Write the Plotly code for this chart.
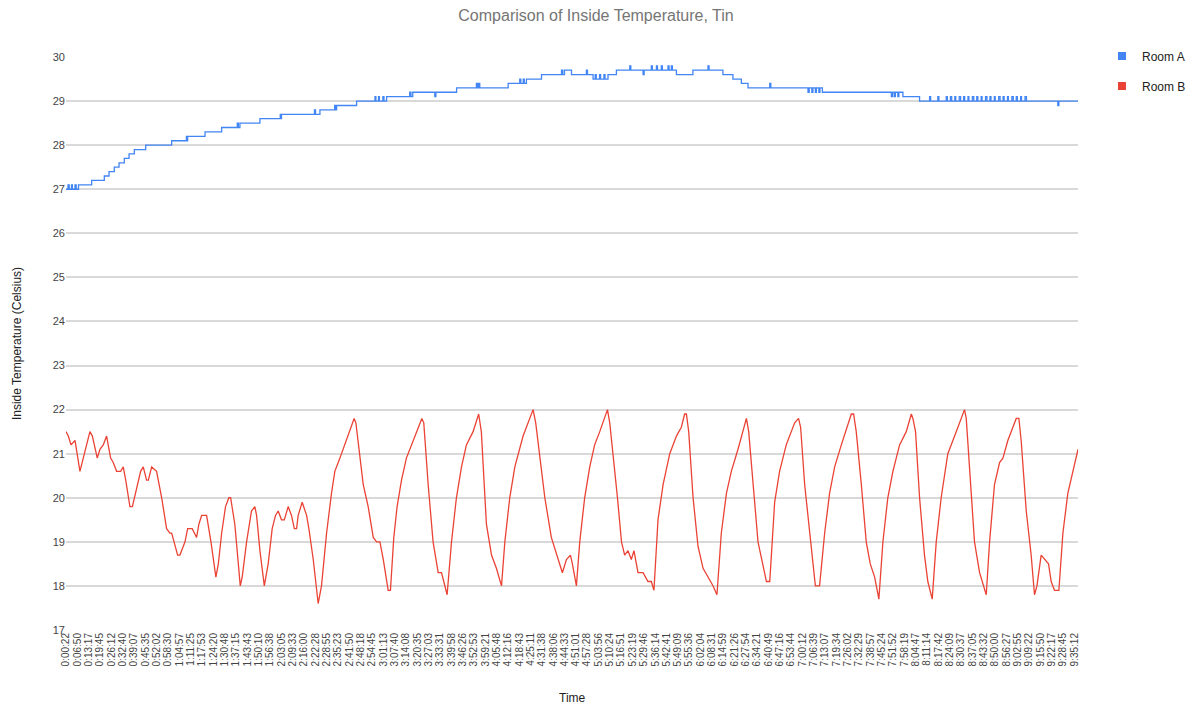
import plotly.graph_objects as go

# ---------------- data (time in minutes from 0:00:00) ----------------
tick_labels = [
    "0:00:22", "0:06:50", "0:13:17", "0:19:45", "0:26:12", "0:32:40", "0:39:07", "0:45:35", "0:52:02", "0:58:30",
    "1:04:57", "1:11:25", "1:17:53", "1:24:20", "1:30:48", "1:37:15", "1:43:43", "1:50:10", "1:56:38", "2:03:05",
    "2:09:33", "2:16:00", "2:22:28", "2:28:55", "2:35:23", "2:41:50", "2:48:18", "2:54:45", "3:01:13", "3:07:40",
    "3:14:08", "3:20:35", "3:27:03", "3:33:31", "3:39:58", "3:46:26", "3:52:53", "3:59:21", "4:05:48", "4:12:16",
    "4:18:43", "4:25:11", "4:31:38", "4:38:06", "4:44:33", "4:51:01", "4:57:28", "5:03:56", "5:10:24", "5:16:51",
    "5:23:19", "5:29:46", "5:36:14", "5:42:41", "5:49:09", "5:55:36", "6:02:04", "6:08:31", "6:14:59", "6:21:26",
    "6:27:54", "6:34:21", "6:40:49", "6:47:16", "6:53:44", "7:00:12", "7:06:39", "7:13:07", "7:19:34", "7:26:02",
    "7:32:29", "7:38:57", "7:45:24", "7:51:52", "7:58:19", "8:04:47", "8:11:14", "8:17:42", "8:24:09", "8:30:37",
    "8:37:05", "8:43:32", "8:50:00", "8:56:27", "9:02:55", "9:09:22", "9:15:50", "9:22:17", "9:28:45", "9:35:12",
]

room_a_time = [
    0.37, 1.5, 2.2, 3.5, 4.0, 5.5, 6.2, 7.5, 15.0, 22.2, 24.9, 27.9, 30.6, 33.6, 36.3, 39.3, 45.8,
    60.6, 69.0, 69.4, 69.7, 79.6, 89.1, 98.0, 98.6, 99.5, 110.9, 122.5, 122.8, 123.2, 142.0, 142.6,
    145.1, 153.5, 154.0, 154.6, 166.0, 176.5, 177.0, 178.5, 179.0, 181.0, 181.6, 183.1,
    196.3, 197.0, 198.0, 210.6, 211.2, 223.0, 234.3, 235.0, 235.6, 236.2, 252.4,
    259.0, 259.6, 261.0, 261.6, 262.8, 271.4, 282.8, 283.5, 284.5, 288.5, 297.0, 297.6,
    300.8, 302.0, 302.6, 304.5, 305.1, 307.0, 307.6, 309.3, 314.1, 321.7, 322.3, 329.3, 329.9,
    334.0, 334.6, 336.9, 337.5, 339.7, 340.3, 343.5, 344.1, 345.4, 346.0, 348.3, 357.7,
    366.3, 366.9, 374.8, 380.5, 385.3, 389.1, 401.5, 402.1,
    423.3, 424.0, 425.5, 426.1, 427.5, 428.1, 429.5, 430.1, 431.5,
    470.8, 471.5, 472.5, 473.1, 474.5, 475.1, 477.4, 486.9, 492.6, 493.2, 497.3, 497.9,
    502.1, 502.7, 504.5, 505.2, 507.0, 507.5, 509.5, 510.3, 512.0, 512.6, 514.5, 515.0,
    517.0, 517.8, 519.5, 520.1, 522.0, 522.5, 524.5, 525.3, 527.0, 527.6, 529.5, 530.0,
    532.0, 532.8, 534.5, 535.1, 537.0, 537.5, 539.5, 540.3, 542.0, 542.6, 544.5, 545.0,
    547.0, 547.8, 549.6, 565.7, 566.3, 577.2,
]
room_a_temp = [
    27.0, 27.1, 27.0, 27.1, 27.0, 27.1, 27.0, 27.1, 27.2, 27.3, 27.4, 27.5, 27.6, 27.7, 27.8, 27.9, 28.0,
    28.1, 28.2, 28.1, 28.2, 28.3, 28.4, 28.5, 28.4, 28.5, 28.6, 28.7, 28.6, 28.7, 28.8, 28.7,
    28.8, 28.9, 28.8, 28.9, 29.0, 29.1, 29.0, 29.1, 29.0, 29.1, 29.0, 29.1,
    29.2, 29.1, 29.2, 29.1, 29.2, 29.3, 29.4, 29.3, 29.4, 29.3, 29.4,
    29.5, 29.4, 29.5, 29.4, 29.5, 29.6, 29.7, 29.6, 29.7, 29.6, 29.7, 29.6,
    29.5, 29.6, 29.5, 29.6, 29.5, 29.6, 29.5, 29.6, 29.7, 29.8, 29.7, 29.6, 29.7,
    29.8, 29.7, 29.8, 29.7, 29.8, 29.7, 29.8, 29.7, 29.8, 29.7, 29.6, 29.7,
    29.8, 29.7, 29.6, 29.5, 29.4, 29.3, 29.4, 29.3,
    29.2, 29.3, 29.2, 29.3, 29.2, 29.3, 29.2, 29.3, 29.2,
    29.1, 29.2, 29.1, 29.2, 29.1, 29.2, 29.1, 29.0, 29.1, 29.0, 29.1, 29.0,
    29.1, 29.0, 29.1, 29.0, 29.1, 29.0, 29.1, 29.0, 29.1, 29.0, 29.1, 29.0,
    29.1, 29.0, 29.1, 29.0, 29.1, 29.0, 29.1, 29.0, 29.1, 29.0, 29.1, 29.0,
    29.1, 29.0, 29.1, 29.0, 29.1, 29.0, 29.1, 29.0, 29.1, 29.0, 29.1, 29.0,
    29.1, 29.0, 29.0, 28.9, 29.0, 29.0,
]

room_b_time = [
    0.37, 1.7, 3.2, 5.5, 8.3, 10.2, 13.1, 14.0, 15.4, 18.2, 19.7, 21.6, 23.5, 25.8, 27.3, 29.2,
    31.5, 33.0, 34.4, 36.8, 38.2, 41.6, 42.9, 44.4, 46.3, 47.3, 49.2, 52.0, 54.9, 57.7, 59.6,
    60.6, 64.0, 65.3, 68.2, 69.7, 72.3, 74.8, 76.1, 77.7, 80.5, 83.0, 85.8, 87.2, 89.1, 91.3,
    93.2, 94.2, 96.6, 99.7, 100.8, 103.3, 106.1, 108.0, 109.0, 110.9, 113.4, 115.6, 117.9, 119.8,
    121.3, 123.2, 124.8, 127.0, 128.9, 130.5, 131.8, 132.7, 135.0, 137.5, 138.8, 141.3, 144.1,
    146.0, 148.9, 151.7, 153.6, 156.5, 159.3, 162.2, 164.6, 165.6, 167.9, 169.8, 172.6, 175.5,
    177.4, 179.3, 181.2, 184.0, 185.3, 187.2, 189.1, 191.6, 194.4, 198.2, 203.2, 204.3, 206.8,
    209.6, 212.5, 214.4, 216.3, 217.6, 220.1, 222.9, 225.8, 228.6, 232.4, 235.6, 237.1, 240.0,
    242.9, 245.7, 248.6, 250.5, 253.3, 256.2, 260.9, 266.6, 268.1, 270.4, 273.3, 277.0, 280.3,
    283.3, 285.6, 287.9, 289.0, 291.3, 293.2, 296.0, 298.9, 301.7, 304.6, 307.4, 309.0, 310.3,
    312.2, 314.7, 317.0, 318.8, 320.7, 322.6, 324.1, 326.4, 329.3, 332.1, 334.0, 335.5, 337.8,
    340.7, 344.5, 348.3, 351.1, 353.0, 354.0, 355.3, 357.8, 360.6, 363.5, 366.3, 369.2, 371.4,
    373.9, 376.8, 379.6, 383.4, 388.2, 389.5, 392.0, 394.8, 399.6, 401.5, 404.3, 407.1, 410.9,
    415.7, 417.9, 419.1, 421.4, 424.2, 427.5, 429.9, 432.8, 435.6, 438.5, 442.3, 446.1, 448.0,
    449.3, 450.8, 453.7, 456.5, 458.8, 461.3, 463.7, 466.0, 468.8, 471.7, 475.5, 479.3, 482.2,
    483.1, 484.6, 486.9, 489.7, 491.6, 494.1, 496.4, 499.2, 503.0, 507.8, 510.6, 512.5, 513.5,
    515.4, 518.2, 521.1, 524.9, 526.8, 529.6, 532.5, 534.4, 537.2, 542.0, 543.5, 544.8, 547.7,
    550.5, 552.4, 553.8, 556.2, 558.1, 560.4, 561.9, 563.8, 566.3, 568.6, 571.4, 574.3, 577.2,
]
room_b_temp = [
    21.5, 21.4, 21.2, 21.3, 20.6, 20.9, 21.4, 21.5, 21.4, 20.9, 21.1, 21.2, 21.4, 20.9, 20.8, 20.6,
    20.6, 20.7, 20.4, 19.8, 19.8, 20.4, 20.6, 20.7, 20.4, 20.4, 20.7, 20.6, 20.0, 19.3, 19.2,
    19.2, 18.7, 18.7, 19.0, 19.3, 19.3, 19.1, 19.4, 19.6, 19.6, 19.0, 18.2, 18.5, 19.2, 19.8,
    20.0, 20.0, 19.4, 18.0, 18.2, 19.0, 19.7, 19.8, 19.6, 18.8, 18.0, 18.5, 19.3, 19.6,
    19.7, 19.5, 19.5, 19.8, 19.6, 19.3, 19.3, 19.6, 19.9, 19.6, 19.3, 18.6, 17.6,
    18.0, 19.2, 20.1, 20.6, 20.9, 21.2, 21.5, 21.8, 21.7, 21.0, 20.3, 19.8, 19.1,
    19.0, 19.0, 18.6, 17.9, 17.9, 19.1, 19.8, 20.4, 20.9, 21.3, 21.8, 21.7, 20.3,
    19.0, 18.3, 18.3, 18.0, 17.8, 19.0, 20.0, 20.7, 21.2, 21.5, 21.9, 21.5, 19.4,
    18.7, 18.4, 18.0, 19.0, 20.0, 20.7, 21.4, 22.0, 21.7, 20.9, 20.0, 19.1, 18.7,
    18.3, 18.6, 18.7, 18.5, 18.0, 19.0, 20.0, 20.7, 21.2, 21.5, 21.8, 22.0, 21.7,
    21.0, 20.0, 19.0, 18.7, 18.8, 18.6, 18.8, 18.3, 18.3, 18.1, 18.1, 17.9, 19.5,
    20.3, 21.0, 21.4, 21.6, 21.9, 21.9, 21.5, 20.0, 18.9, 18.4, 18.2, 18.0, 17.8,
    19.2, 20.1, 20.6, 21.1, 21.8, 21.5, 20.3, 19.0, 18.1, 18.1, 19.9, 20.6, 21.2,
    21.7, 21.8, 21.6, 20.3, 19.2, 18.0, 18.0, 19.2, 20.1, 20.7, 21.2, 21.7, 21.9,
    21.9, 21.5, 20.3, 19.0, 18.5, 18.2, 17.7, 19.0, 20.0, 20.6, 21.2, 21.5, 21.9,
    21.8, 21.5, 20.0, 18.7, 18.1, 17.7, 19.0, 20.0, 21.0, 21.5, 21.8, 22.0, 21.8,
    20.7, 19.0, 18.3, 17.8, 19.0, 20.3, 20.8, 20.9, 21.3, 21.8, 21.8, 21.3, 19.7,
    18.7, 17.8, 18.0, 18.7, 18.6, 18.5, 18.1, 17.9, 17.9, 19.2, 20.1, 20.6, 21.1,
]

y_ticks = [17, 18, 19, 20, 21, 22, 23, 24, 25, 26, 27, 28, 29, 30]


def to_minutes(label):
    h, m, s = (int(p) for p in label.split(":"))
    return h * 60 + m + s / 60.0


tick_vals = [to_minutes(t) for t in tick_labels]

FONT = "Liberation Sans, Arial, sans-serif"
BLUE = "#4285F4"
RED = "#EA4335"

fig = go.Figure()
fig.add_trace(go.Scatter(x=room_a_time, y=room_a_temp, mode="lines", line=dict(color=BLUE, width=1.3, shape="hv"),
                         name="Room A", showlegend=False))
fig.add_trace(go.Scatter(x=room_b_time, y=room_b_temp, mode="lines", line=dict(color=RED, width=1.3),
                         name="Room B", showlegend=False))
# legend swatches
fig.add_trace(go.Scatter(x=[None], y=[None], mode="markers", name="Room A", legendgroup="a",
                         marker=dict(symbol="square", size=8, color=BLUE)))
fig.add_trace(go.Scatter(x=[None], y=[None], mode="markers", name="Room B", legendgroup="b",
                         marker=dict(symbol="square", size=8, color=RED)))

fig.update_layout(
    width=1192, height=706,
    margin=dict(l=66, r=114, t=57, b=76, autoexpand=False),
    paper_bgcolor="white", plot_bgcolor="white",
    font=dict(family=FONT, size=11, color="#444444"),
    title=dict(text="Comparison of Inside Temperature, Tin", x=0.5, xanchor="center", y=0.978, yanchor="middle",
               font=dict(family=FONT, size=16, color="#757575")),
    legend=dict(x=1.0237, y=1.027, xanchor="left", yanchor="top", font=dict(size=12, color="#222222"),
                tracegroupgap=11, bgcolor="rgba(0,0,0,0)"),
    hovermode=False,
    annotations=[dict(text="Time", xref="paper", yref="paper", x=0.5, y=-0.1187, xanchor="center",
                      yanchor="middle", showarrow=False, font=dict(size=12, color="#222222"))],
)
fig.update_xaxes(
    range=[tick_vals[0], room_b_time[-1]], tickmode="array", tickvals=tick_vals, ticktext=tick_labels,
    tickangle=-90, tickfont=dict(size=10, color="#444444"), showgrid=False, zeroline=False, showline=False,
    ticks="", automargin=False,
)
fig.update_yaxes(
    range=[17, 30], tickmode="array", tickvals=y_ticks, showgrid=True, gridcolor="#d9d9d9", gridwidth=1.5,
    zeroline=False, showline=False, ticks="", tickfont=dict(size=11, color="#444444"), automargin=False,
    title=dict(text="Inside Temperature (Celsius)", font=dict(size=12, color="#222222"), standoff=28),
)

fig.write_html("out.html", config={"displayModeBar": False},
               post_script="document.body.style.margin='0';document.body.style.overflow='hidden';")
